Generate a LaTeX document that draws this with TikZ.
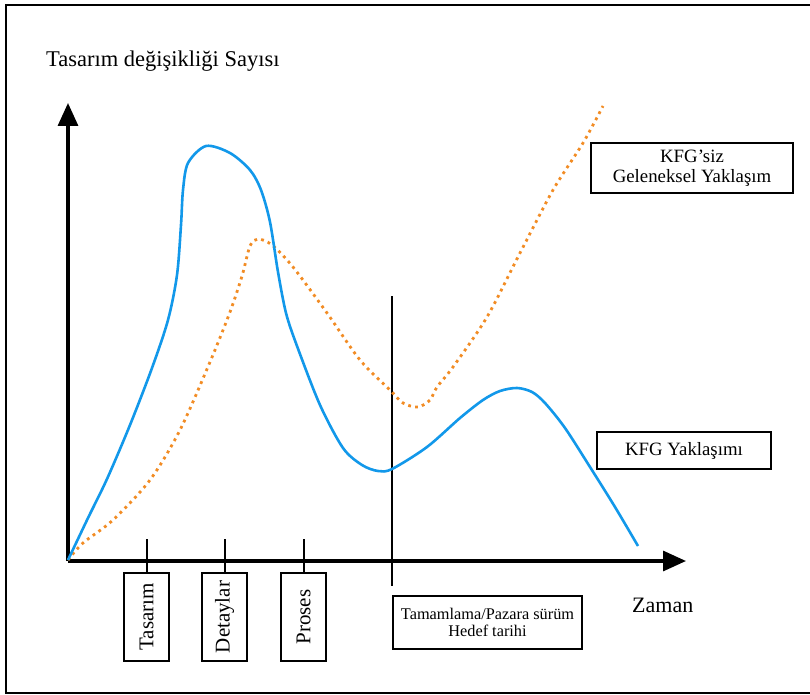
\documentclass[tikz,border=0pt]{standalone}
\usepackage{fontspec}
\setmainfont{Liberation Serif}
\usetikzlibrary{arrows.meta}
\definecolor{kfgblue}{RGB}{18,152,234}
\definecolor{tradorange}{RGB}{242,140,36}
\begin{document}
\begin{tikzpicture}[x=1pt,y=-1pt,
  axis/.style={line width=3.2pt,-{Triangle[length=23pt,width=20pt]}},
  phasebox/.style={draw,line width=1.8pt,minimum width=45pt,minimum height=88pt,inner sep=0pt,font=\fontsize{21}{21}\selectfont},
  labelbox/.style={draw,line width=1.8pt,inner sep=0pt,align=center},
  tickline/.style={line width=2pt},
  kfg/.style={kfgblue,line width=2.6pt},
  trad/.style={tradorange,line width=2.8pt,dash pattern=on 2.8pt off 4.2pt}
]
\useasboundingbox (0,0) rectangle (810,695);
\clip (0,0) rectangle (810,695);
\fill[white] (0,0) rectangle (810,695);
\draw[line width=2.8pt] (6,5) rectangle (820,693);

% axes
\coordinate (o) at (68,561);
\coordinate (ytip) at (68,103);
\coordinate (xtip) at (686,561);
\draw[axis] (o) -- (ytip);
\draw[axis] (o) -- (xtip);
\node[anchor=base west,font=\fontsize{22.5}{22.5}\selectfont,inner sep=0pt] (ylab) at (46,67) {Tasarım değişikliği Sayısı};
\node[anchor=base west,font=\fontsize{22}{22}\selectfont,inner sep=0pt] (xlab) at (632,612) {Zaman};

% phases along the time axis
\node[phasebox] (b1) at (146.5,617) {\rotatebox{90}{Tasarım}};
\node[phasebox] (b2) at (224.5,617) {\rotatebox{90}{Detaylar}};
\node[phasebox] (b3) at (303.5,617) {\rotatebox{90}{Proses}};
\coordinate (t1) at (146.5,539);
\coordinate (t2) at (224.5,539);
\coordinate (t3) at (303.5,539);
\draw[tickline] (t1) -- (b1.north);
\draw[tickline] (t2) -- (b2.north);
\draw[tickline] (t3) -- (b3.north);

% target date marker
\coordinate (m1) at (392,296);
\coordinate (m2) at (392,586);
\draw[tickline] (m1) -- (m2);
\node[labelbox,minimum width=189pt,minimum height=53pt,font=\fontsize{16.3}{17}\selectfont] (target) at (487.5,622.5) {Tamamlama/Pazara sürüm\\Hedef tarihi};

% legend boxes
\node[labelbox,minimum width=202pt,minimum height=50pt,font=\fontsize{18.8}{19.5}\selectfont] (tradbox) at (692,168) {KFG’siz\\Geleneksel Yaklaşım};
\node[labelbox,minimum width=174pt,minimum height=37pt,font=\fontsize{18.8}{19.5}\selectfont] (kfgbox) at (684,450.5) {KFG Yaklaşımı};

% traditional approach curve
\draw[trad] plot[smooth,tension=0.5] coordinates {
  (68,560) (83,543) (113,520) (150,480) (180,430) (210,362) (230,312)
  (242,276) (250,246) (258,239) (272,245) (293,267) (327,313) (360,360)
  (390,390) (403,403) (418,407) (430,400) (437,387) (453,367) (487,317)
  (520,253) (553,190) (583,143) (603,106)};

% KFG approach curve
\draw[kfg] plot[smooth,tension=0.5] coordinates {
  (68,560) (88,518) (107,479) (130,425) (152,368) (168,320) (177,275)
  (181,225) (183,190) (188,163) (206,146) (230,153) (250,170)
  (261,190) (270,222) (278,272) (286,313) (297,346)
  (320,405) (343,448) (362,465) (378,471) (392,469) (427,447) (460,418)
  (483,400) (500,391) (517,388) (532,392) (545,403) (565,428) (590,467)
  (615,507) (638,546)};
\end{tikzpicture}
\end{document}
